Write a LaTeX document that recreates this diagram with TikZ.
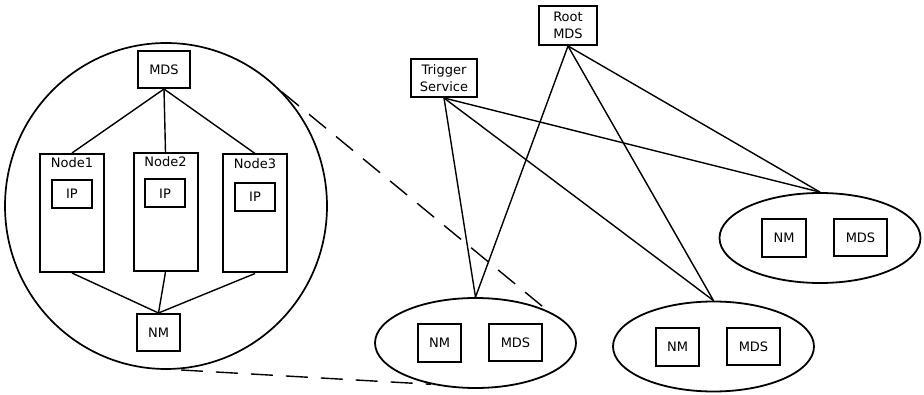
\documentclass[tikz,border=0pt]{standalone}
\usepackage{fontspec}
\setmainfont{DejaVu Sans}
\usetikzlibrary{shapes.geometric}

\begin{document}
\begin{tikzpicture}[x=1pt,y=-1pt,
  every node/.style={font=\fontsize{13}{17}\selectfont,inner sep=0pt},
  box/.style={draw,line width=2pt,minimum width=#1},
  box/.default=52pt,
  cluster/.style={draw,ellipse,line width=1.8pt,minimum width=201pt,minimum height=90pt},
  host/.style={draw,line width=2pt,minimum width=64pt,minimum height=118pt},
  link/.style={line width=1.4pt},
  zoomline/.style={line width=1.4pt,dash pattern=on 22pt off 13pt}]
\useasboundingbox (0,0) rectangle (924,395);
% close-up of one cluster
\draw[line width=1.7pt] (166,206) circle[x radius=161pt,y radius=163pt];
\coordinate (c1) at (282,92);
\coordinate (c2) at (181,370);
\draw
(164,69.5) node[box,minimum height=37pt](mds){MDS}
(158.5,332.5) node[box=43pt,minimum height=37pt](nm){NM}
(72,213) node[host,label={[anchor=north,yshift=-4pt]north:Node1}](n1){}
(165.5,212) node[host,label={[anchor=north,yshift=-4pt]north:Node2}](n2){}
(255,213.5) node[host,label={[anchor=north,yshift=-5pt]north:Node3}](n3){}
(72,194) node[box=40pt,minimum height=28pt](ip1){IP}
(165,193.5) node[box=40pt,minimum height=28pt](ip2){IP}
(255,197) node[box=40pt,minimum height=28pt](ip3){IP}
;
\foreach \x in {n1,n2,n3}{
\draw[link](mds.south)--(\x.north);
\draw[link](nm.north)--(\x.south);
}
% overlay network
\draw
(444,78) node[box=66pt,minimum height=38pt,align=center](trig){Trigger\\Service}
(568,25.5) node[box=58pt,minimum height=39pt,align=center](root){Root\\MDS}
(475.5,343) node[cluster](e1){}
(713.5,346.5) node[cluster](e2){}
(820,238) node[cluster](e3){}
(439.5,343) node[box=43pt,minimum height=38pt](nm1){NM}
(515.5,342.5) node[box=53pt,minimum height=37pt](mds1){MDS}
(677.5,347) node[box=43pt,minimum height=38pt](nm2){NM}
(753.5,346.5) node[box=53pt,minimum height=37pt](mds2){MDS}
(784,238) node[box=44pt,minimum height=38pt](nm3){NM}
(860.5,237.5) node[box=53pt,minimum height=37pt](mds3){MDS}
;
\foreach \x/\y in {trig/e1, trig/e2, trig/e3, root/e1, root/e2, root/e3}{
\draw[link](\x.south)--(\y.north);
}
\draw[zoomline](c1)--(e1.24);
\draw[zoomline](c2)--(e1.223);
\end{tikzpicture}
\end{document}
